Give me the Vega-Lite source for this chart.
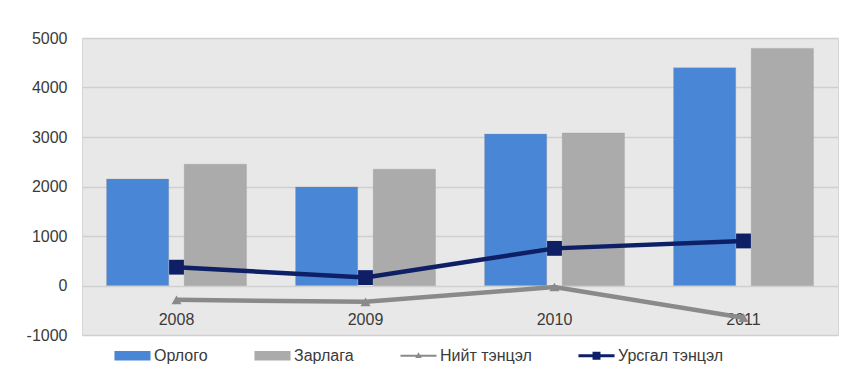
{
  "$schema": "https://vega.github.io/schema/vega-lite/v6.json",
  "width": 844,
  "height": 381,
  "autosize": {"type": "fit", "contains": "padding"},
  "padding": {"left": 26, "top": 30, "right": 6, "bottom": 38},
  "background": "white",
  "config": {
    "font": "Liberation Sans",
    "view": {"fill": "#e8e8e8", "stroke": "#d6d6d6"}
  },
  "datasets": {
    "bars": [
      {"year": "2008", "series": "Орлого", "value": 2150},
      {"year": "2008", "series": "Зарлага", "value": 2450},
      {"year": "2009", "series": "Орлого", "value": 1990},
      {"year": "2009", "series": "Зарлага", "value": 2350},
      {"year": "2010", "series": "Орлого", "value": 3060},
      {"year": "2010", "series": "Зарлага", "value": 3080},
      {"year": "2011", "series": "Орлого", "value": 4400},
      {"year": "2011", "series": "Зарлага", "value": 4790}
    ],
    "lines": [
      {"year": "2008", "series": "Нийт тэнцэл", "value": -290},
      {"year": "2009", "series": "Нийт тэнцэл", "value": -330},
      {"year": "2010", "series": "Нийт тэнцэл", "value": -30},
      {"year": "2011", "series": "Нийт тэнцэл", "value": -650},
      {"year": "2008", "series": "Урсгал тэнцэл", "value": 370},
      {"year": "2009", "series": "Урсгал тэнцэл", "value": 160},
      {"year": "2010", "series": "Урсгал тэнцэл", "value": 750},
      {"year": "2011", "series": "Урсгал тэнцэл", "value": 900}
    ]
  },
  "encoding": {
    "x": {
      "field": "year",
      "type": "nominal",
      "scale": {"paddingInner": 0.26, "paddingOuter": 0.13},
      "axis": {
        "title": null,
        "labelAngle": 0,
        "domain": false,
        "ticks": false,
        "grid": false,
        "labelPadding": -24,
        "labelBaseline": "top",
        "labelFontSize": 16,
        "labelColor": "#3a3a3a"
      }
    },
    "y": {
      "field": "value",
      "type": "quantitative",
      "scale": {"domain": [-1000, 5000], "nice": false, "zero": false},
      "axis": {
        "title": null,
        "values": [-1000, 0, 1000, 2000, 3000, 4000, 5000],
        "labelExpr": "'' + datum.value",
        "domain": false,
        "ticks": false,
        "labelPadding": 15,
        "labelFontSize": 16,
        "labelColor": "#3a3a3a",
        "gridColor": "#cfcfcf",
        "gridWidth": 1.5
      }
    },
    "color": {
      "field": "series",
      "type": "nominal",
      "scale": {
        "domain": ["Орлого", "Зарлага", "Нийт тэнцэл", "Урсгал тэнцэл"],
        "range": ["#4a86d6", "#ababab", "#8a8a8a", "#0e1f66"]
      },
      "legend": {
        "orient": "none",
        "legendX": 32,
        "legendY": 299,
        "direction": "horizontal",
        "title": null,
        "labelFontSize": 16,
        "labelColor": "#3a3a3a",
        "labelOffset": 3,
        "columnPadding": 46,
        "symbolSize": 1300,
        "symbolStrokeWidth": 0,
        "encode": {
          "symbols": {
            "update": {
              "shape": {"signal": "datum.value === 'Орлого' || datum.value === 'Зарлага' ? 'M-1,-0.27H1V0.27H-1Z' : datum.value === 'Нийт тэнцэл' ? 'M-1,-0.06H1V0.06H-1Z M0,-0.2L0.18,0.12H-0.18Z' : 'M-1,-0.09H1V0.09H-1Z M-0.22,-0.22H0.22V0.22H-0.22Z'"},
              "fill": {"signal": "scale('color', datum.value)"},
              "stroke": {"value": "transparent"},
              "opacity": {"value": 1}
            }
          }
        }
      }
    }
  },
  "layer": [
    {
      "data": {"name": "bars"},
      "mark": {"type": "bar", "stroke": "#8f8f8f", "strokeWidth": 0.6, "strokeOpacity": 0.5},
      "encoding": {
        "xOffset": {
          "field": "series",
          "type": "nominal",
          "scale": {"domain": ["Орлого", "Зарлага"], "paddingInner": 0.2}
        }
      }
    },
    {
      "data": {"name": "lines"},
      "mark": {"type": "line", "strokeWidth": 4.5},
      "encoding": {}
    },
    {
      "data": {"name": "lines"},
      "mark": {"type": "point", "filled": true, "opacity": 1},
      "encoding": {
        "shape": {
          "field": "series",
          "type": "nominal",
          "scale": {"domain": ["Нийт тэнцэл", "Урсгал тэнцэл"], "range": ["triangle-up", "square"]},
          "legend": null
        },
        "size": {
          "field": "series",
          "type": "nominal",
          "scale": {"domain": ["Нийт тэнцэл", "Урсгал тэнцэл"], "range": [100, 220]},
          "legend": null
        }
      }
    }
  ]
}
